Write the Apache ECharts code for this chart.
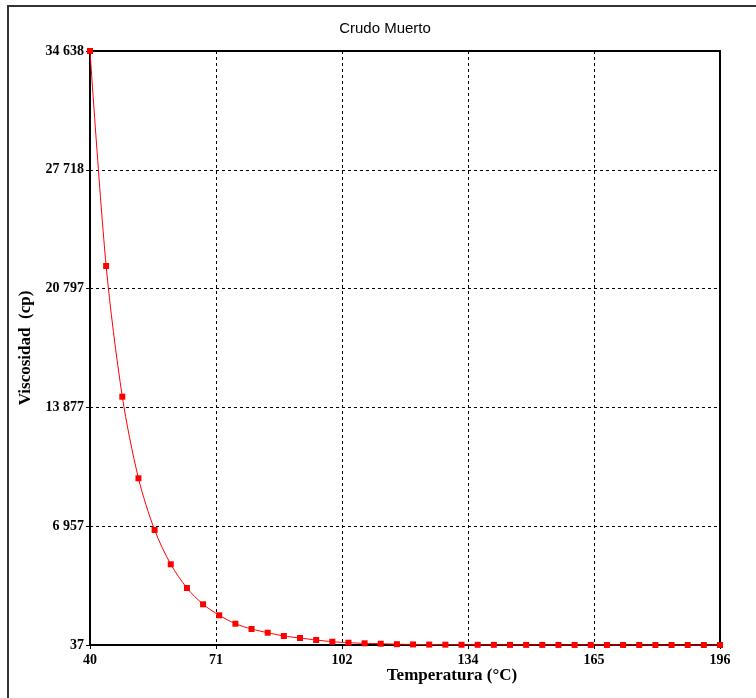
<!DOCTYPE html>
<html>
<head>
<meta charset="utf-8">
<script src="https://cdn.jsdelivr.net/npm/echarts@6/dist/echarts.min.js"></script>
<style>
  html, body { margin: 0; padding: 0; background: #fff; }
  #chart { width: 756px; height: 698px; }
</style>
</head>
<body>
<div id="chart"></div>
<script>
// temperature (°C) of each sample
const temperaturas = [40, 44, 48, 52, 56, 60, 64, 68, 72, 76, 80, 84, 88, 92, 96, 100,
  104, 108, 112, 116, 120, 124, 128, 132, 136, 140, 144, 148, 152, 156, 160, 164,
  168, 172, 176, 180, 184, 188, 192, 196]
// viscosity (cp)
const viscosidad = [34638, 22114, 14501, 9747, 6736, 4738, 3357, 2408, 1767, 1278, 969, 753,
  561, 445, 328, 229, 171, 136, 112, 84, 70, 62, 56, 52, 48, 46, 44, 43, 42, 41,
  40, 40, 39, 39, 39, 38, 38, 38, 38, 37]

const xTickLabels = ['40', '71', '102', '134', '165', '196']
const yTickLabels = ['37', '6 957', '13 877', '20 797', '27 718', '34 638']

const xMin = 40, xMax = 196, xStep = 31.2
const yMin = 37, yMax = 34638, yStep = 6920.2

const serif = '"Liberation Serif", "DejaVu Serif", serif'
const sans = '"Liberation Sans", Arial, sans-serif'

let chartDom = document.getElementById('chart')
let myChart = echarts.init(chartDom)

const option = {
    animation: false,
    backgroundColor: '#fff',
    grid: {
        left: 90,
        top: 51,
        right: 36,
        bottom: 53,
        show: true,
        borderColor: '#000',
        borderWidth: 2,
    },
    xAxis: {
        type: 'value',
        min: xMin,
        max: xMax,
        interval: xStep,
        axisLine: { show: true, onZero: false, lineStyle: { color: '#000', width: 2 } },
        axisTick: { show: true, length: 4, lineStyle: { color: '#000' } },
        splitLine: { show: true, lineStyle: { color: '#000', type: [3, 3], width: 1 } },
        axisLabel: {
            margin: 8,
            color: '#000',
            fontFamily: serif,
            fontWeight: 'bold',
            fontSize: 14,
            formatter: (value) => xTickLabels[Math.round((value - xMin) / xStep)] || '',
        },
    },
    yAxis: {
        type: 'value',
        min: yMin,
        max: yMax,
        interval: yStep,
        name: 'Viscosidad  (cp)',
        nameLocation: 'middle',
        nameGap: 53,
        nameTextStyle: {
            color: '#000',
            fontFamily: serif,
            fontWeight: 'bold',
            fontSize: 17,
        },
        axisLine: { show: true, onZero: false, lineStyle: { color: '#000', width: 2 } },
        axisTick: { show: true, length: 4, lineStyle: { color: '#000' } },
        splitLine: { show: true, lineStyle: { color: '#000', type: [3, 3], width: 1 } },
        axisLabel: {
            margin: 6,
            color: '#000',
            fontFamily: serif,
            fontWeight: 'bold',
            fontSize: 14,
            formatter: (value) => yTickLabels[Math.round((value - yMin) / yStep)] || '',
        },
    },
    graphic: [
        {
            type: 'rect',
            shape: { x: 8, y: 6, width: 800, height: 800 },
            style: { fill: 'none', stroke: '#333', lineWidth: 2 },
            silent: true,
        },
        {
            type: 'text',
            x: 385,
            y: 29,
            style: {
                text: 'Crudo Muerto',
                fill: '#000',
                font: '15px ' + sans,
                textAlign: 'center',
                textVerticalAlign: 'middle',
            },
        },
        {
            type: 'text',
            x: 452,
            y: 676,
            style: {
                text: 'Temperatura (°C)',
                fill: '#000',
                font: 'bold 17px ' + serif,
                textAlign: 'center',
                textVerticalAlign: 'middle',
            },
        },
    ],
    series: [
        {
            name: 'Viscosidad',
            type: 'line',
            smooth: 0.3,
            symbol: 'rect',
            symbolSize: 6,
            showSymbol: true,
            clip: false,
            itemStyle: { color: '#ff0000' },
            lineStyle: { color: '#ff0000', width: 1 },
            data: temperaturas.map((t, i) => [t, viscosidad[i]]),
        },
    ],
}

option && myChart.setOption(option)
</script>
</body>
</html>
